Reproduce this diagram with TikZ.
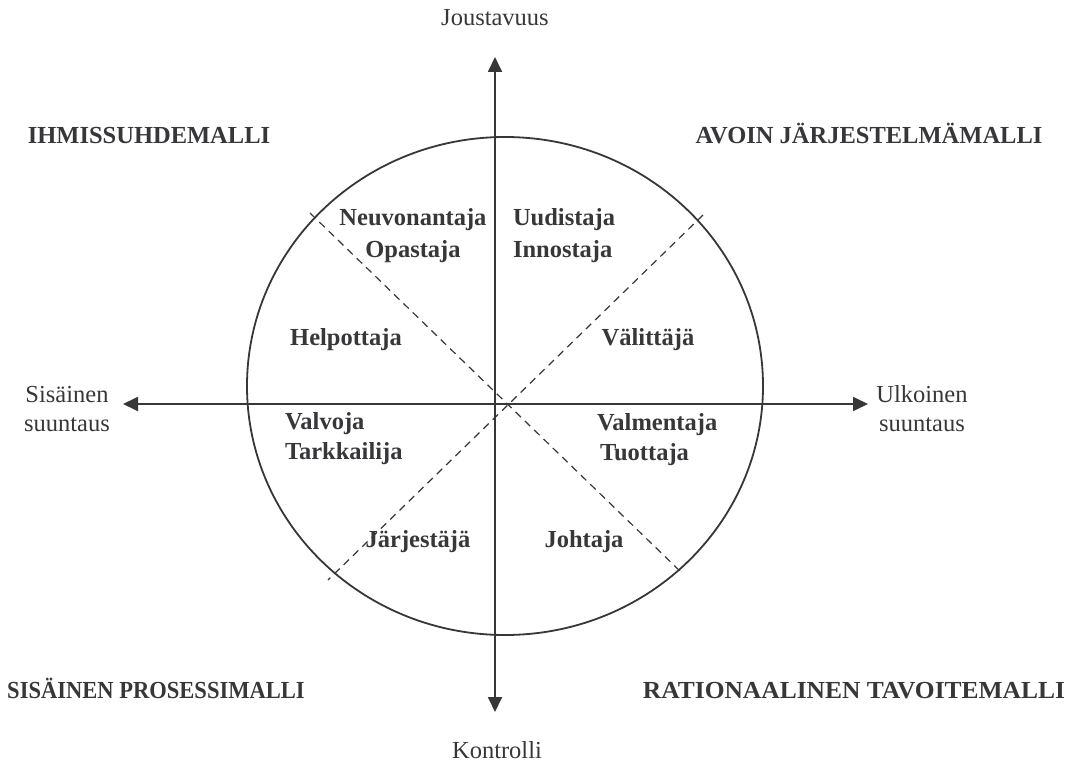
\documentclass[tikz,border=0pt]{standalone}
\usepackage{fontspec}
\setmainfont{Liberation Serif}
\usetikzlibrary{arrows.meta}
\definecolor{ink}{RGB}{55,55,58}
\begin{document}
\begin{tikzpicture}[x=1bp,y=-1bp,
  every node/.style={inner sep=0pt, outer sep=0pt, text=ink, font=\fontsize{24.5bp}{29bp}\selectfont},
  lbl/.style={anchor=base},
  lblw/.style={anchor=base west},
  heavy/.style={font=\fontsize{24.5bp}{29bp}\selectfont\bfseries},
  axis/.style={draw=ink, line width=1.8bp, {Triangle[length=15bp,width=14bp]}-{Triangle[length=15bp,width=14bp]}},
  ring/.style={draw=ink, line width=1.8bp},
  divider/.style={draw=ink, line width=1.2bp, dash pattern=on 7.5bp off 5.5bp}]
\useasboundingbox (0,0) rectangle (1077,763);
% circle
\coordinate (c) at (505,386);
\draw[ring] (c) ellipse [x radius=258bp, y radius=249bp];
% dividers
\coordinate (d1a) at (310,213);
\coordinate (d1b) at (682,573);
\coordinate (d2a) at (703,215);
\coordinate (d2b) at (328,580);
\draw[divider] (d1a) -- (d1b);
\draw[divider] (d2a) -- (d2b);
% axes
\coordinate (n) at (495,57);
\coordinate (s) at (495,712);
\coordinate (w) at (123,404);
\coordinate (e) at (868,404);
\draw[axis] (s) -- (n);
\draw[axis] (w) -- (e);
% axis labels
\node[lbl] (joust) at (495,26) {Joustavuus};
\node[lbl] (kontr) at (497,758) {Kontrolli};
\node[lbl] (sis1) at (67,402) {Sisäinen};
\node[lbl] (sis2) at (67,431) {suuntaus};
\node[lbl] (ulk1) at (922,402) {Ulkoinen};
\node[lbl] (ulk2) at (922,431) {suuntaus};
% quadrant titles
\node[lbl,heavy] (q1) at (149,143) {IHMISSUHDEMALLI};
\node[lbl,heavy] (q2) at (869,143) {AVOIN JÄRJESTELMÄMALLI};
\node[lbl,heavy] (q3) at (156,698) {\scalebox{0.92}[1]{SISÄINEN PROSESSIMALLI}};
\node[lbl,heavy] (q4) at (854,698) {\scalebox{1.04}[1]{RATIONAALINEN TAVOITEMALLI}};
% roles
\node[lbl,heavy] (r1a) at (413,225) {Neuvonantaja};
\node[lbl,heavy] (r1b) at (413,257) {Opastaja};
\node[lblw,heavy] (r2a) at (513,225) {Uudistaja};
\node[lblw,heavy] (r2b) at (513,257) {Innostaja};
\node[lbl,heavy] (r3) at (346,345) {Helpottaja};
\node[lbl,heavy] (r4) at (648,345) {Välittäjä};
\node[lblw,heavy] (r5a) at (285,429) {Valvoja};
\node[lblw,heavy] (r5b) at (285,459) {Tarkkailija};
\node[lblw,heavy] (r6a) at (597,430) {Valmentaja};
\node[lblw,heavy] (r6b) at (600,460) {Tuottaja};
\node[lbl,heavy] (r7) at (418,547) {Järjestäjä};
\node[lbl,heavy] (r8) at (584,547) {Johtaja};
\end{tikzpicture}
\end{document}
